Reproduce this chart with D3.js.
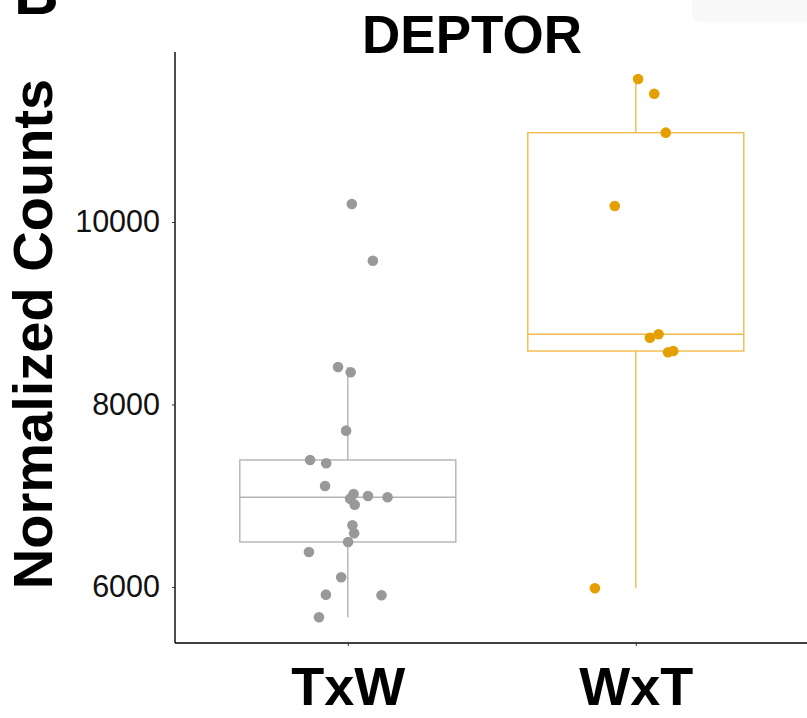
<!DOCTYPE html>
<html>
<head>
<meta charset="utf-8">
<script src="https://cdn.jsdelivr.net/npm/d3@7"></script>
<style>
  html, body { margin: 0; padding: 0; background: #fff; }
  svg { display: block; font-family: "Liberation Sans", Arial, sans-serif; }
</style>
</head>
<body>
<svg id="chart" width="807" height="718"></svg>
<script>
// DEPTOR normalized counts by cross direction
const categories = ["TxW", "WxT"];
const colors = ["#999999", "#E69F00"];
const boxColors = ["#b3b3b3", "#f0bb4a"];

const txwCounts = [10197, 9576, 8411, 8353, 7713, 7392, 7356, 7107, 7019, 6997, 6983,
                   6968, 6902, 6676, 6589, 6493, 6384, 6106, 5916, 5909, 5668];
const txwJitter = [0.014, 0.087, -0.034, 0.010, -0.006, -0.131, -0.075, -0.079, 0.020, 0.070, 0.138,
                   0.008, 0.024, 0.016, 0.022, 0.001, -0.135, -0.023, -0.076, 0.117, -0.100];

const wxtCounts = [11567, 11406, 10979, 10175, 8769, 8732, 8586, 8572, 5986];
const wxtJitter = [0.008, 0.064, 0.104, -0.073, 0.079, 0.049, 0.130, 0.112, -0.142];

const yTicks = [6000, 8000, 10000];
const titleText = "DEPTOR";
const yLabel = "Normalized Counts";

const groups = [
  { name: categories[0], values: txwCounts, jitter: txwJitter },
  { name: categories[1], values: wxtCounts, jitter: wxtJitter }
];

const svg = d3.select("#chart");

const panel = { left: 175, right: 808.6, top: 52, bottom: 643 };

// discrete positions 1..n with 0.6 expansion on each side
const x = d3.scaleLinear().domain([0.4, 2.6]).range([panel.left, panel.right]);
const y = d3.scaleLinear().domain([5386, 11863]).range([panel.bottom, panel.top]);
const boxWidth = (x(2) - x(1)) * 0.75;

// faint panel tab in the corner and the cut-off panel letter
svg.append("rect")
  .attr("x", 692).attr("y", -12).attr("width", 140).attr("height", 34)
  .attr("rx", 7).attr("fill", "#f9f9f9");
svg.append("text")
  .attr("x", 14).attr("y", 14)
  .attr("font-size", 62).attr("font-weight", "bold")
  .text("B");

// box statistics
groups.forEach((g, i) => {
  const s = g.values.slice().sort(d3.ascending);
  const q1 = d3.quantile(s, 0.25), med = d3.quantile(s, 0.5), q3 = d3.quantile(s, 0.75);
  const iqr = q3 - q1;
  const lo = d3.min(s.filter(v => v >= q1 - 1.5 * iqr));
  const hi = d3.max(s.filter(v => v <= q3 + 1.5 * iqr));
  const cx = x(i + 1);
  const gEl = svg.append("g").attr("stroke", boxColors[i]).attr("stroke-width", 1.4).attr("fill", "none");
  gEl.append("line").attr("x1", cx).attr("x2", cx).attr("y1", y(q3)).attr("y2", y(hi));
  gEl.append("line").attr("x1", cx).attr("x2", cx).attr("y1", y(q1)).attr("y2", y(lo));
  gEl.append("rect")
    .attr("x", cx - boxWidth / 2).attr("width", boxWidth)
    .attr("y", y(q3)).attr("height", y(q1) - y(q3))
    .attr("fill", "#fff");
  gEl.append("line")
    .attr("x1", cx - boxWidth / 2).attr("x2", cx + boxWidth / 2)
    .attr("y1", y(med)).attr("y2", y(med));
});

// jittered points
groups.forEach((g, i) => {
  svg.append("g").selectAll("circle")
    .data(g.values.map((v, k) => ({ v, j: g.jitter[k] })))
    .join("circle")
    .attr("cx", d => x(i + 1 + d.j))
    .attr("cy", d => y(d.v))
    .attr("r", 5.3)
    .attr("fill", colors[i]);
});

// axes
const yAxis = d3.axisLeft(y).tickValues(yTicks).tickSize(3).tickPadding(12).tickFormat(d3.format("d"));
const yG = svg.append("g").attr("transform", `translate(${panel.left},0)`).call(yAxis);
yG.select(".domain").attr("stroke", "#000").attr("stroke-width", 1.4)
  .attr("d", `M0,${panel.bottom}V${panel.top}`);
yG.selectAll(".tick line").attr("stroke", "#333");
yG.selectAll(".tick text").attr("font-size", 30.5).attr("fill", "#111")
  .attr("font-family", "Liberation Sans, Arial, sans-serif");

const xAxis = d3.axisBottom(x).tickValues([1, 2]).tickSize(3).tickPadding(21)
  .tickFormat(d => categories[d - 1]);
const xG = svg.append("g").attr("transform", `translate(0,${panel.bottom})`).call(xAxis);
xG.select(".domain").attr("stroke", "#000").attr("stroke-width", 1.4)
  .attr("d", `M${panel.left},0H${panel.right}`);
xG.selectAll(".tick line").attr("stroke", "#333");
xG.selectAll(".tick text").attr("font-size", 54).attr("font-weight", "bold").attr("fill", "#000")
  .attr("font-family", "Liberation Sans, Arial, sans-serif");

// titles
svg.append("text")
  .attr("x", 472).attr("y", 53)
  .attr("text-anchor", "middle")
  .attr("font-size", 53).attr("font-weight", "bold")
  .text(titleText);

svg.append("text")
  .attr("transform", `translate(52,334) rotate(-90)`)
  .attr("text-anchor", "middle")
  .attr("font-size", 56).attr("font-weight", "bold")
  .text(yLabel);
</script>
</body>
</html>
